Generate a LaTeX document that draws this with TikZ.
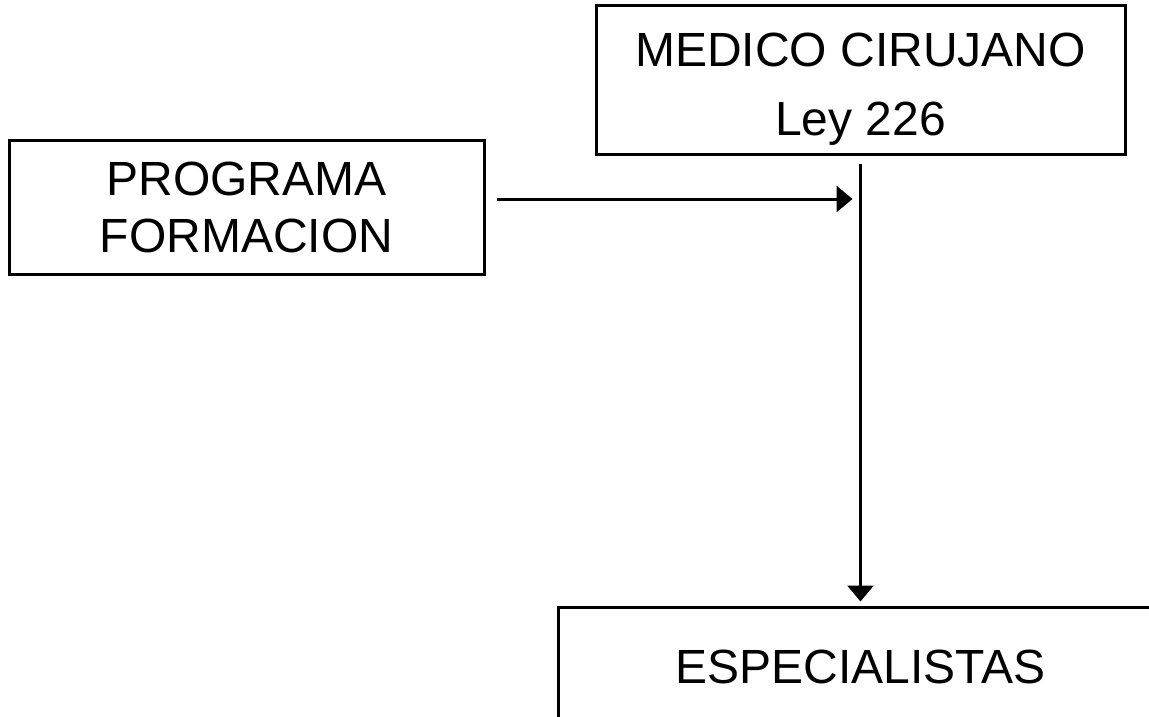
\documentclass[tikz,border=0pt]{standalone}
\usepackage{fontspec}
\setmainfont{Liberation Sans}
\usepackage{tikz}
\usetikzlibrary{arrows.meta}
\usetikzlibrary{calc}

\tikzset{
  caja/.style={draw, line width=3pt, rectangle, inner sep=0pt, align=center,
    font=\fontsize{48}{57}\selectfont},
  flecha/.style={line width=3pt, -{Triangle[length=16pt, width=26pt]}}
}

\begin{document}
\begin{tikzpicture}[x=1pt, y=-1pt]

      \useasboundingbox (0,0) rectangle (1149,717);
      \clip (0,0) rectangle (1149,717);

      \node [caja, minimum width=475pt, minimum height=134pt] (prog)
      at (246.5,207) {PROGRAMA\\FORMACION};

      \node [caja, minimum width=529pt, minimum height=148pt,
      font=\fontsize{48}{69}\selectfont] (med)
      at (860.5,80) {\rule{0pt}{51pt}MEDICO CIRUJANO\\Ley 226};

      \node [caja, minimum width=605pt, minimum height=120pt] (esp)
      at (860.5,667) {ESPECIALISTAS};

      \draw [flecha, shorten <=11pt, shorten >=8pt]
      ([yshift=8pt]prog.east) -- ([yshift=8pt]prog.east -| med.south);

      \draw [flecha, shorten <=8pt, shorten >=4pt] (med.south) -- (esp.north);

    \end{tikzpicture}
\end{document}
